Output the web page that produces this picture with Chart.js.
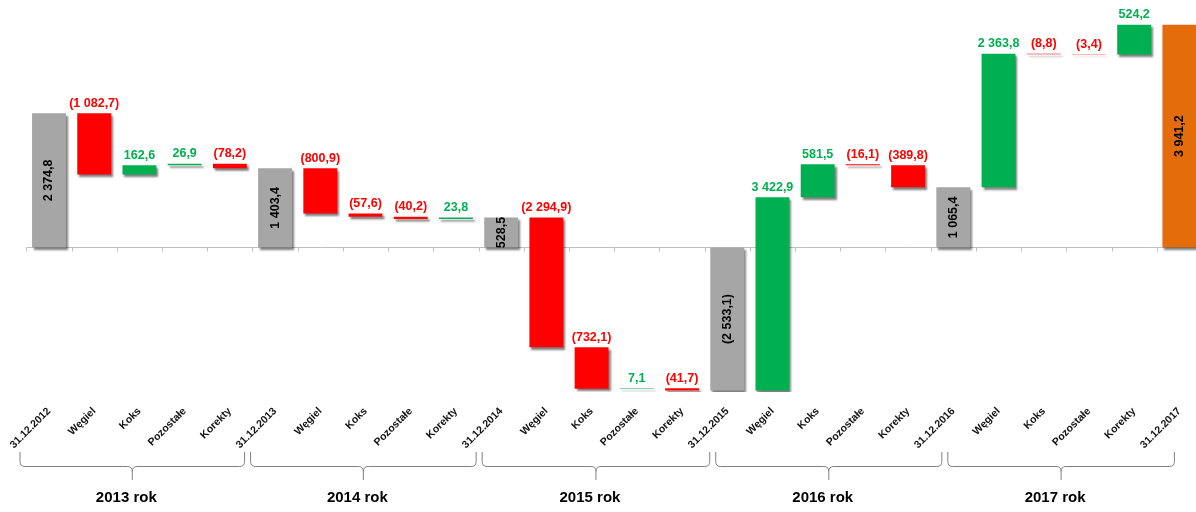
<!DOCTYPE html>
<html>
<head>
<meta charset="utf-8">
<script src="https://cdn.jsdelivr.net/npm/chart.js@4/dist/chart.umd.min.js"></script>
<style>
html,body{margin:0;padding:0;background:#fff;overflow:hidden;}
#wrap{position:absolute;left:0;top:0;width:1202px;height:512px;}
</style>
</head>
<body>
<div id="wrap"><canvas id="c"></canvas></div>
<script>
// ---- data ----
const categories = [
  '31.12.2012','Węgiel','Koks','Pozostałe','Korekty',
  '31.12.2013','Węgiel','Koks','Pozostałe','Korekty',
  '31.12.2014','Węgiel','Koks','Pozostałe','Korekty',
  '31.12.2015','Węgiel','Koks','Pozostałe','Korekty',
  '31.12.2016','Węgiel','Koks','Pozostałe','Korekty',
  '31.12.2017'
];
const values = [
  2374.8, -1082.7, 162.6, 26.9, -78.2,
  1403.4, -800.9, -57.6, -40.2, 23.8,
  528.5, -2294.9, -732.1, 7.1, -41.7,
  -2533.1, 3422.9, 581.5, -16.1, -389.8,
  1065.4, 2363.8, -8.8, -3.4, 524.2,
  3941.2
];
const totalIndexes = [0, 5, 10, 15, 20, 25];
const finalIndex = 25;
const yearLabels = ['2013 rok', '2014 rok', '2015 rok', '2016 rok', '2017 rok'];

// ---- styles ----
const COLORS = { total: '#A6A6A6', up: '#00B050', down: '#FF0000', final: '#E46C0A' };
const FONT = '"Liberation Sans", Arial, sans-serif';

// build floating ranges
const ranges = [];
const barColors = [];
let running = 0;
values.forEach((v, i) => {
  if (totalIndexes.includes(i)) {
    ranges.push([0, v]);
    running = v;
    barColors.push(i === finalIndex ? COLORS.final : COLORS.total);
  } else {
    ranges.push([running, running + v]);
    running += v;
    barColors.push(v >= 0 ? COLORS.up : COLORS.down);
  }
});

function fmt(v) {
  const parts = Math.abs(v).toFixed(1).split('.');
  const s = parts[0].replace(/\B(?=(\d{3})+(?!\d))/g, ' ') + ',' + parts[1];
  return v < 0 ? '(' + s + ')' : s;
}

const waterfallPlugin = {
  id: 'waterfall',
  beforeDatasetsDraw(chart) {
    const ctx = chart.ctx, x = chart.scales.x, y = chart.scales.y;
    const y0 = Math.round(y.getPixelForValue(0)) + 0.5;
    ctx.save();
    ctx.strokeStyle = '#BFBFBF';
    ctx.lineWidth = 1;
    ctx.beginPath();
    ctx.moveTo(chart.chartArea.left, y0);
    ctx.lineTo(chart.chartArea.right, y0);
    for (let i = 0; i <= categories.length; i++) {
      const px = Math.round(x.getPixelForValue(i - 0.5)) + 0.5;
      ctx.moveTo(px, y0);
      ctx.lineTo(px, y0 + 4);
    }
    ctx.stroke();
    ctx.restore();
    ctx.save();
    ctx.shadowColor = 'rgba(0,0,0,0.5)';
    ctx.shadowOffsetX = 2;
    ctx.shadowOffsetY = 2.5;
    ctx.shadowBlur = 2;
  },
  afterDatasetsDraw(chart) {
    const ctx = chart.ctx;
    ctx.restore();
    const meta = chart.getDatasetMeta(0);
    ctx.save();
    ctx.font = 'bold 12.5px ' + FONT;
    meta.data.forEach((bar, i) => {
      const v = values[i];
      if (totalIndexes.includes(i)) {
        ctx.save();
        ctx.translate(bar.x, (bar.y + bar.base) / 2);
        ctx.rotate(-Math.PI / 2);
        ctx.fillStyle = '#000';
        ctx.textAlign = 'center';
        ctx.textBaseline = 'middle';
        ctx.fillText(fmt(v), 0, 0);
        ctx.restore();
      } else {
        const top = Math.min(bar.y, bar.base);
        ctx.fillStyle = v >= 0 ? COLORS.up : COLORS.down;
        ctx.textAlign = 'center';
        ctx.textBaseline = 'middle';
        ctx.fillText(fmt(v), bar.x, top - 10);
      }
    });
    ctx.restore();
  },
  afterDraw(chart) {
    const ctx = chart.ctx, x = chart.scales.x;
    const shifts = [29, 27.5, 22, 14.5, 8.5, 5];
    const edge = k => x.getPixelForValue(totalIndexes[k]) - shifts[k];
    const yTop = 452, yLine = 466.5, yTip = 480;
    ctx.save();
    ctx.strokeStyle = '#808080';
    ctx.lineWidth = 1;
    for (let k = 0; k < yearLabels.length; k++) {
      const L = edge(k) + (k > 0 ? 3 : 0);
      const R = edge(k + 1) - (k < yearLabels.length - 1 ? 3 : 0);
      const C = (L + R) / 2;
      ctx.beginPath();
      ctx.moveTo(L, yTop);
      ctx.lineTo(L, yLine - 5);
      ctx.quadraticCurveTo(L, yLine, L + 5, yLine);
      ctx.lineTo(C - 5, yLine);
      ctx.quadraticCurveTo(C, yLine, C, yLine + 5);
      ctx.lineTo(C, yTip);
      ctx.moveTo(C, yLine + 5);
      ctx.quadraticCurveTo(C, yLine, C + 5, yLine);
      ctx.lineTo(R - 5, yLine);
      ctx.quadraticCurveTo(R, yLine, R, yLine - 5);
      ctx.lineTo(R, yTop);
      ctx.stroke();
      ctx.fillStyle = '#000';
      ctx.font = 'bold 15px ' + FONT;
      ctx.textAlign = 'center';
      ctx.textBaseline = 'middle';
      ctx.fillText(yearLabels[k], C - 6, 498);
    }
    ctx.restore();
  }
};

new Chart(document.getElementById('c'), {
  type: 'bar',
  data: {
    labels: categories,
    datasets: [{
      data: ranges,
      backgroundColor: barColors,
      borderWidth: 0,
      barPercentage: 0.75,
      categoryPercentage: 1.0
    }]
  },
  options: {
    responsive: true,
    maintainAspectRatio: false,
    animation: false,
    layout: { padding: { left: 26.4, right: 0, top: 0, bottom: 0 } },
    plugins: { legend: { display: false }, tooltip: { enabled: false } },
    scales: {
      x: {
        grid: { display: false },
        border: { display: false },
        ticks: {
          autoSkip: false,
          maxRotation: 45,
          minRotation: 45,
          padding: 5,
          color: '#111',
          font: { family: FONT, size: 10.5, weight: 'bold' }
        },
        afterFit(scale) { scale.height = 120; }
      },
      y: {
        display: false,
        min: -2558,
        max: 4380
      }
    }
  },
  plugins: [waterfallPlugin]
});
</script>
</body>
</html>
